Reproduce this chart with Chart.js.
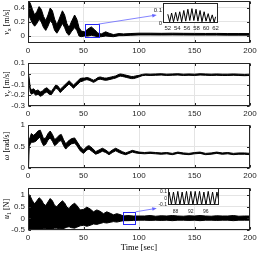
<!DOCTYPE html>
<html><head><meta charset="utf-8">
<script src="https://cdn.jsdelivr.net/npm/chart.js"></script>
<style>
html,body{margin:0;padding:0;background:#fff;}
#wrap{position:relative;width:260px;height:253px;overflow:hidden;background:#fff;}
canvas{position:absolute;}
.yt{position:absolute;left:7px;transform:translate(-50%,-50%) rotate(-90deg);font:8px "Liberation Serif","DejaVu Serif",serif;white-space:nowrap;color:#000;line-height:1;}
.yt sub{font-size:6px;vertical-align:-1.5px;line-height:0;}
</style></head><body>
<div id="wrap">
<canvas id="c1"></canvas><canvas id="c2"></canvas><canvas id="c3"></canvas><canvas id="c4"></canvas>
<canvas id="i1"></canvas><canvas id="i4"></canvas>
<div class="yt" style="top:22px"><i>v</i><sub>x</sub> [m/s]</div>
<div class="yt" style="top:84px"><i>v</i><sub>y</sub> [m/s]</div>
<div class="yt" style="top:146px"><i>ω</i> [rad/s]</div>
<div class="yt" style="top:209px"><i>u</i><sub>1</sub> [N]</div>
</div>
<script>
// ---------------- data ----------------
const timeTicks = [0, 50, 100, 150, 200];
const vxTicks = [0, 0.2, 0.4];
const vyTicks = [-0.3, -0.2, -0.1, 0, 0.1];
const wTicks = [0, 0.5, 1];
const uTicks = [-0.5, 0, 0.5, 1];

// v_x band (upper / lower envelope of the fast oscillation)
const vxT  = [0,0.5,2,4,6,8,10,12,14,16,18,20,22,24,26,28,31,33,35,37,39,42,44,46,48,51,54,57,60,63,66,70,73,77,82,86,92,100,110,120,130,140,150,160,170,180,190,200];
const vxHi = [0,0.5,0.47,0.38,0.30,0.35,0.42,0.38,0.28,0.22,0.30,0.40,0.36,0.24,0.16,0.24,0.36,0.30,0.18,0.12,0.20,0.30,0.24,0.12,0.07,0.06,0.10,0.13,0.09,0.04,0.03,0.06,0.04,0.02,0.035,0.03,0.035,0.04,0.04,0.038,0.04,0.038,0.037,0.036,0.037,0.035,0.035,0.034];
const vxLo = [0,0.3,0.25,0.18,0.14,0.18,0.24,0.2,0.12,0.08,0.14,0.22,0.18,0.08,0.04,0.09,0.18,0.12,0.04,0.01,0.06,0.12,0.08,0.0,-0.01,0.0,0.0,0.01,0.0,-0.01,-0.01,0.0,-0.005,-0.01,0.005,0.005,0.01,0.015,0.015,0.014,0.015,0.014,0.013,0.013,0.013,0.012,0.012,0.012];

// v_y band
const vyT  = [0,1,2,3,5,7,9,11,13,15,17,19,21,23,25,27,29,31,33,35,37,39,41,43,45,47,49,51,53,55,57,59,61,63,65,67,69,71,73,75,77,79,81,83,85,87,89,91,93,95,97,100,103,106,110,115,120,125,130,135,140,145,150,155,160,165,170,175,180,185,190,195,200];
const vyHi = [0.03,-0.04,-0.13,-0.15,-0.14,-0.16,-0.15,-0.17,-0.16,-0.14,-0.13,-0.15,-0.165,-0.135,-0.105,-0.115,-0.145,-0.125,-0.105,-0.085,-0.065,-0.085,-0.105,-0.085,-0.065,-0.045,-0.04,-0.04,-0.035,-0.04,-0.05,-0.06,-0.05,-0.035,-0.03,-0.035,-0.04,-0.04,-0.035,-0.03,-0.025,-0.02,-0.01,-0.002,-0.005,-0.01,-0.015,-0.02,-0.025,-0.025,-0.02,-0.015,-0.006,-0.002,-0.004,-0.002,0.0,-0.004,-0.002,0.0,-0.004,-0.002,-0.004,0.0,-0.002,-0.004,-0.002,-0.004,-0.004,-0.002,-0.004,-0.006,-0.004];
const vyLo = [0.01,-0.08,-0.17,-0.19,-0.18,-0.2,-0.19,-0.21,-0.2,-0.18,-0.17,-0.19,-0.195,-0.165,-0.135,-0.145,-0.175,-0.155,-0.135,-0.115,-0.095,-0.115,-0.135,-0.115,-0.095,-0.075,-0.07,-0.06,-0.055,-0.06,-0.07,-0.08,-0.07,-0.055,-0.05,-0.055,-0.06,-0.06,-0.055,-0.05,-0.045,-0.04,-0.03,-0.022,-0.025,-0.03,-0.035,-0.04,-0.045,-0.045,-0.04,-0.029,-0.018,-0.014,-0.016,-0.014,-0.012,-0.016,-0.014,-0.012,-0.016,-0.014,-0.016,-0.012,-0.014,-0.016,-0.014,-0.016,-0.016,-0.014,-0.016,-0.018,-0.016];

// omega band
const wT  = [0,0.5,1,2,3,5,7,9,11,12,14,16,18,20,22,24,26,28,30,32,34,36,39,42,44,47,50,53,55,58,61,64,67,70,73,76,79,82,85,88,91,94,97,100,105,110,115,120,125,130,135,140,145,150,155,160,165,170,175,180,185,190,195,200];
const wHi = [0.05,0.3,0.65,0.72,0.8,0.76,0.8,0.86,0.88,0.82,0.68,0.7,0.8,0.86,0.78,0.66,0.7,0.76,0.78,0.66,0.56,0.62,0.68,0.7,0.62,0.5,0.42,0.5,0.52,0.46,0.38,0.42,0.46,0.42,0.36,0.42,0.46,0.42,0.38,0.35,0.38,0.41,0.39,0.37,0.36,0.37,0.36,0.35,0.36,0.34,0.37,0.35,0.34,0.36,0.37,0.34,0.35,0.37,0.35,0.36,0.34,0.35,0.35,0.34];
const wLo = [0,0.05,0.5,0.55,0.6,0.6,0.62,0.68,0.72,0.62,0.52,0.55,0.65,0.7,0.62,0.52,0.56,0.62,0.64,0.52,0.44,0.5,0.56,0.58,0.52,0.4,0.34,0.42,0.44,0.38,0.32,0.35,0.39,0.36,0.31,0.36,0.4,0.36,0.33,0.31,0.34,0.37,0.35,0.34,0.33,0.34,0.33,0.32,0.33,0.31,0.34,0.32,0.31,0.33,0.34,0.31,0.32,0.34,0.32,0.33,0.31,0.32,0.32,0.31];

// u_1 band
const uT  = [0,0.3,2,4,6,8,10,12,14,16,18,20,22,24,26,28,31,33,35,37,39,42,44,47,50,53,56,59,62,65,68,71,74,77,80,83,86,90,95,100,105,110,115,120,125,130,135,140,145,150,155,160,165,170,175,180,185,190,195,200];
const uHi = [0.0,1.05,0.95,0.75,0.62,0.75,0.88,0.8,0.62,0.55,0.7,0.85,0.75,0.55,0.5,0.62,0.75,0.66,0.48,0.42,0.55,0.65,0.55,0.36,0.38,0.48,0.4,0.28,0.36,0.3,0.2,0.28,0.22,0.15,0.2,0.16,0.1,0.12,0.1,0.1,0.1,0.12,0.09,0.11,0.1,0.12,0.1,0.09,0.11,0.1,0.12,0.1,0.09,0.11,0.1,0.1,0.12,0.09,0.1,0.1];
const uLo = [0.0,-0.5,-0.5,-0.5,-0.48,-0.5,-0.5,-0.48,-0.45,-0.45,-0.48,-0.5,-0.46,-0.42,-0.42,-0.45,-0.46,-0.42,-0.38,-0.36,-0.4,-0.42,-0.38,-0.32,-0.3,-0.34,-0.3,-0.24,-0.26,-0.22,-0.18,-0.2,-0.17,-0.14,-0.16,-0.13,-0.1,-0.1,-0.09,-0.08,-0.08,-0.09,-0.08,-0.09,-0.08,-0.1,-0.08,-0.08,-0.09,-0.08,-0.1,-0.08,-0.08,-0.09,-0.08,-0.08,-0.1,-0.08,-0.08,-0.08];

// zoomed insets
const zoomVxT = [52.0,52.4,52.8,53.2,53.65,54.05,54.5,54.9,55.35,55.75,56.2,56.6,57.05,57.45,57.9,58.3,58.75,59.15,59.6,60.0,60.45,60.85,61.3,61.7,62.0];
const zoomVx  = [0.07,0.01,0.08,0.01,0.085,0.015,0.09,0.01,0.1,0.015,0.11,0.02,0.115,0.02,0.11,0.015,0.1,0.01,0.09,0.015,0.075,0.01,0.065,0.005,0.05];
const zoomVxXTicks = [52, 54, 56, 58, 60, 62];
const zoomVxYTicks = [0, 0.1];
const zoomUT = [86.0,86.3,86.9,87.45,88.0,88.6,89.15,89.75,90.3,90.9,91.45,92.05,92.6,93.2,93.75,94.35,94.9,95.5,96.05,96.65,97.2,97.8,98.35,98.95,99.5];
const zoomU  = [0.0,0.09,-0.09,0.09,-0.1,0.1,-0.1,0.09,-0.1,0.1,-0.1,0.1,-0.1,0.1,-0.09,0.1,-0.1,0.09,-0.1,0.1,-0.09,0.09,-0.1,0.09,-0.05];
const zoomUXTicks = [88, 92, 96];
const zoomUYTicks = [-0.1, 0, 0.1];

// ---------------- drawing ----------------
const SANS = '"Liberation Sans", Arial, sans-serif';
const SERIF = '"Liberation Serif", "DejaVu Serif", serif';
const GRID = '#e4e4e4';
const AXIS = '#262626';
const BLUE = 'rgb(40,40,245)';
const BLUE2 = 'rgb(100,100,255)';

const pts = (xs, ys) => xs.map((x, i) => ({x: x, y: ys[i]}));
const fixTicks = list => s => { s.ticks = list.map(v => ({value: v})); };

const framePlugin = {
  id: 'frame',
  beforeDraw(chart, args, o) {
    if (!o.bg) return;
    const a = chart.chartArea, ctx = chart.ctx;
    ctx.save(); ctx.fillStyle = '#fff';
    ctx.fillRect(a.left, a.top, a.right - a.left, a.bottom - a.top);
    ctx.restore();
  },
  afterDraw(chart, args, o) {
    const a = chart.chartArea, ctx = chart.ctx, xs = chart.scales.x, ys = chart.scales.y;
    ctx.save();
    ctx.strokeStyle = AXIS; ctx.lineWidth = 1;
    const L = Math.round(a.left) + 0.5, R = Math.round(a.right) - 0.5;
    const T = Math.round(a.top) + 0.5, B = Math.round(a.bottom) - 0.5;
    if (o.ticks) {
      ctx.beginPath();
      ys.ticks.forEach(t => {
        const p = Math.round(ys.getPixelForValue(t.value)) + 0.5;
        ctx.moveTo(L, p); ctx.lineTo(L + 2.5, p);
        ctx.moveTo(R, p); ctx.lineTo(R - 2.5, p);
      });
      xs.ticks.forEach(t => {
        const p = Math.round(xs.getPixelForValue(t.value)) + 0.5;
        ctx.moveTo(p, B); ctx.lineTo(p, B - 2.5);
        ctx.moveTo(p, T); ctx.lineTo(p, T + 2.5);
      });
      ctx.stroke();
    }
    ctx.strokeRect(L, T, R - L, B - T);
    if (o.zoom) {
      const z = o.zoom;
      const x0 = xs.getPixelForValue(z.x0), x1 = xs.getPixelForValue(z.x1);
      const y0 = ys.getPixelForValue(z.y0), y1 = ys.getPixelForValue(z.y1);
      ctx.strokeStyle = BLUE; ctx.lineWidth = 1;
      ctx.strokeRect(Math.round(x0) + 0.5, Math.round(y1) + 0.5, Math.round(x1 - x0), Math.round(y0 - y1));
      if (o.arrowTo) {
        const ex = xs.getPixelForValue(o.arrowTo.x), ey = ys.getPixelForValue(o.arrowTo.y);
        const sx = x1, sy = y1;
        const ang = Math.atan2(ey - sy, ex - sx);
        ctx.strokeStyle = BLUE2; ctx.fillStyle = BLUE2; ctx.lineWidth = 0.8;
        ctx.beginPath(); ctx.moveTo(sx, sy);
        ctx.lineTo(ex - 3 * Math.cos(ang), ey - 3 * Math.sin(ang)); ctx.stroke();
        ctx.beginPath();
        ctx.moveTo(ex, ey);
        ctx.lineTo(ex - 4.5 * Math.cos(ang) + 1.8 * Math.sin(ang), ey - 4.5 * Math.sin(ang) - 1.8 * Math.cos(ang));
        ctx.lineTo(ex - 4.5 * Math.cos(ang) - 1.8 * Math.sin(ang), ey - 4.5 * Math.sin(ang) + 1.8 * Math.cos(ang));
        ctx.closePath(); ctx.fill();
      }
    }
    ctx.restore();
  }
};
Chart.register(framePlugin);

function mainChart(id, o) {
  const cv = document.getElementById(id);
  cv.width = 260; cv.height = o.h;
  cv.style.left = '0px'; cv.style.top = o.top + 'px';
  return new Chart(cv, {
    type: 'line',
    data: {datasets: [
      {data: pts(o.t, o.hi), fill: '+1', backgroundColor: '#000', borderColor: '#000', borderWidth: 1, pointRadius: 0, tension: 0},
      {data: pts(o.t, o.lo), fill: false, borderColor: '#000', borderWidth: 1, pointRadius: 0, tension: 0}
    ]},
    options: {
      responsive: false, animation: false, events: [],
      layout: {padding: {top: o.padTop, right: 10, bottom: 0, left: 0}},
      plugins: {legend: {display: false}, tooltip: {enabled: false},
        frame: {ticks: true, zoom: o.zoom || null, arrowTo: o.arrowTo || null, bg: false}},
      scales: {
        x: {type: 'linear', min: 0, max: 200,
          afterBuildTicks: fixTicks(timeTicks),
          afterFit: s => { s.height = o.xh; s.paddingLeft = 0; s.paddingRight = 0; },
          grid: {color: GRID, drawTicks: false}, border: {display: false},
          ticks: {font: {family: SANS, size: 8}, color: AXIS, padding: 3, maxRotation: 0, autoSkip: false, callback: v => String(v)},
          title: o.xTitle ? {display: true, text: o.xTitle, font: {family: SERIF, size: 8.5}, color: '#000', padding: 0} : {display: false}
        },
        y: {type: 'linear', min: o.ymin, max: o.ymax,
          afterBuildTicks: fixTicks(o.yticks),
          afterFit: s => { s.width = 28; s.paddingTop = 0; s.paddingBottom = 0; },
          grid: {color: GRID, drawTicks: false}, border: {display: false},
          ticks: {font: {family: SANS, size: 8}, color: AXIS, padding: 3, autoSkip: false, callback: v => String(v)}
        }
      }
    }
  });
}

function insetChart(id, o) {
  const cv = document.getElementById(id);
  cv.width = o.w; cv.height = o.h;
  cv.style.left = o.left + 'px'; cv.style.top = o.top + 'px';
  return new Chart(cv, {
    type: 'line',
    data: {datasets: [{data: pts(o.t, o.v), fill: false, borderColor: '#000', borderWidth: 1, pointRadius: 0, tension: 0}]},
    options: {
      responsive: false, animation: false, events: [],
      layout: {padding: {top: o.padTop, right: o.padRight, bottom: 0, left: 0}},
      plugins: {legend: {display: false}, tooltip: {enabled: false}, frame: {ticks: false, bg: true}},
      scales: {
        x: {type: 'linear', min: o.xmin, max: o.xmax,
          afterBuildTicks: fixTicks(o.xticks),
          afterFit: s => { s.height = o.xh; s.paddingLeft = 0; s.paddingRight = 0; },
          grid: {display: false, drawTicks: false}, border: {display: false},
          ticks: {font: {family: SANS, size: o.fs}, color: AXIS, padding: o.xpad, maxRotation: 0, autoSkip: false, callback: v => String(v)}
        },
        y: {type: 'linear', min: o.ymin, max: o.ymax,
          afterBuildTicks: fixTicks(o.yticks),
          afterFit: s => { s.width = o.yw; s.paddingTop = 0; s.paddingBottom = 0; },
          grid: {display: false, drawTicks: false}, border: {display: false},
          ticks: {font: {family: SANS, size: o.fs}, color: AXIS, padding: 1, autoSkip: false, callback: v => String(v)}
        }
      }
    }
  });
}

mainChart('c1', {top: 0, h: 60, padTop: 1, xh: 17, t: vxT, hi: vxHi, lo: vxLo, ymin: -0.1, ymax: 0.5, yticks: vxTicks,
  zoom: {x0: 51, x1: 63.5, y0: -0.01, y1: 0.17}, arrowTo: {x: 116, y: 0.3}});
mainChart('c2', {top: 55, h: 67, padTop: 8, xh: 16, t: vyT, hi: vyHi, lo: vyLo, ymin: -0.3, ymax: 0.1, yticks: vyTicks});
mainChart('c3', {top: 117, h: 67, padTop: 8, xh: 16, t: wT, hi: wHi, lo: wLo, ymin: 0, ymax: 1, yticks: wTicks});
mainChart('c4', {top: 180, h: 73, padTop: 8, xh: 23, t: uT, hi: uHi, lo: uLo, ymin: -0.5, ymax: 1.3, yticks: uTicks,
  xTitle: 'Time [sec]', zoom: {x0: 86, x1: 97, y0: -0.22, y1: 0.28}, arrowTo: {x: 116, y: 0.43}});

insetChart('i1', {left: 149, top: 0, w: 75, h: 32, padTop: 3, padRight: 6, yw: 14, xh: 9, fs: 6, xpad: 2,
  t: zoomVxT, v: zoomVx, xmin: 51, xmax: 62.5, ymin: 0, ymax: 0.16, xticks: zoomVxXTicks, yticks: zoomVxYTicks});
insetChart('i4', {left: 156, top: 184, w: 69, h: 32, padTop: 4, padRight: 6, yw: 12, xh: 11, fs: 5, xpad: 4,
  t: zoomUT, v: zoomU, xmin: 86, xmax: 99.5, ymin: -0.1, ymax: 0.15, xticks: zoomUXTicks, yticks: zoomUYTicks});
</script>
</body></html>
